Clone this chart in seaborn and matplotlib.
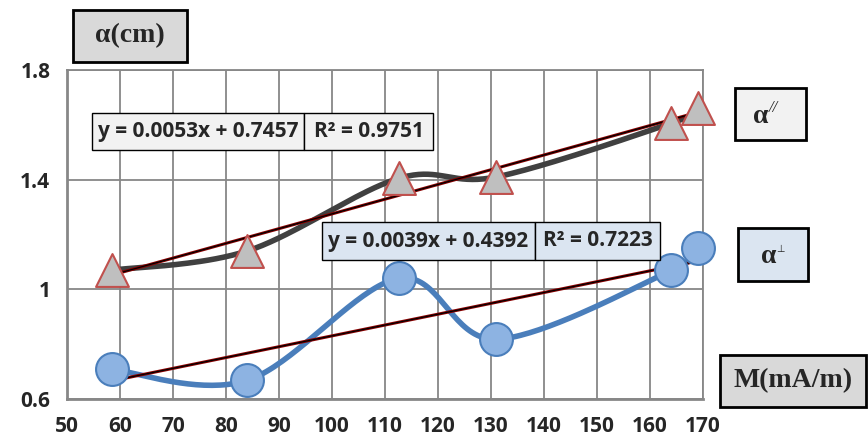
import numpy as np
import pandas as pd
import matplotlib.pyplot as plt
from matplotlib.patches import Rectangle
from matplotlib.ticker import MultipleLocator
import seaborn as sns

# data
m_par = [58.5, 84, 112.6, 131, 164, 169]
a_par = [1.07, 1.14, 1.405, 1.41, 1.606, 1.66]
m_perp = [58.5, 84, 112.6, 131, 164, 169]
a_perp = [0.708, 0.668, 1.04, 0.818, 1.069, 1.15]
eq_par = ["y = 0.0053x + 0.7457", "R² = 0.9751"]
eq_perp = ["y = 0.0039x + 0.4392", "R² = 0.7223"]

sns.set_style("white")
plt.rcParams['font.family'] = ['Open Sans', 'DejaVu Sans']


def smooth(xs, ys, n=40):
    # Excel-like smoothed line (Catmull-Rom through the points)
    p = np.column_stack([xs, ys]).astype(float)
    p = np.vstack([p[0], p, p[-1]])
    out = []
    for i in range(1, len(p) - 2):
        p0, p1, p2, p3 = p[i - 1], p[i], p[i + 1], p[i + 2]
        t = np.linspace(0, 1, n)[:, None]
        seg = 0.5 * ((2 * p1) + (-p0 + p2) * t + (2 * p0 - 5 * p1 + 4 * p2 - p3) * t ** 2
                     + (-p0 + 3 * p1 - 3 * p2 + p3) * t ** 3)
        out.append(seg)
    out = np.vstack(out)
    return out[:, 0], out[:, 1]


fig = plt.figure(figsize=(8.68, 4.41), dpi=100)
ax = fig.add_axes([0.0772, 0.0952, 0.7327, 0.746])

grid_c = '#878787'
ax.set_xlim(50, 170)
ax.set_ylim(0.6, 1.8)
ax.xaxis.set_major_locator(MultipleLocator(10))
ax.xaxis.set_minor_locator(MultipleLocator(2))
ax.yaxis.set_minor_locator(MultipleLocator(0.08))
ax.set_yticks([0.6, 1, 1.4, 1.8])
ax.set_yticklabels(['0.6', '1', '1.4', '1.8'])
ax.grid(True, which='major', color=grid_c, lw=1.3)
ax.set_axisbelow(True)
for s in ax.spines.values():
    s.set_color(grid_c)
    s.set_linewidth(1.3)
ax.spines['left'].set_linewidth(2)
ax.spines['bottom'].set_linewidth(2)
ax.tick_params(which='major', direction='out', length=8, width=1.5, color=grid_c,
               labelsize=15, pad=4)
ax.tick_params(which='minor', direction='inout', length=9, width=1.3, color=grid_c)
for lab in ax.get_xticklabels() + ax.get_yticklabels():
    lab.set_fontweight('bold')

# smoothed series lines
sx, sy = smooth(m_par, a_par)
ax.plot(sx, sy, color='#404040', lw=4, zorder=3, solid_capstyle='round')
sx, sy = smooth(m_perp, a_perp)
ax.plot(sx, sy, color='#4a7ebb', lw=4, zorder=3, solid_capstyle='round')

# linear trendlines
for xs, ys in [(m_par, a_par), (m_perp, a_perp)]:
    sns.regplot(x=xs, y=ys, scatter=False, ci=None, truncate=True, ax=ax,
                line_kws=dict(color='#8b0000', lw=2.2, zorder=4))
    sns.regplot(x=xs, y=ys, scatter=False, ci=None, truncate=True, ax=ax,
                line_kws=dict(color='black', lw=0.9, zorder=4))

# markers
sns.scatterplot(x=m_par, y=a_par, marker='^', s=560, color='#bfbfbf',
                edgecolor='#c0504d', linewidth=1.5, zorder=5, ax=ax, clip_on=False)
sns.scatterplot(x=m_perp, y=a_perp, marker='o', s=560, color='#8db3e2',
                edgecolor='#4a7ebb', linewidth=1.5, zorder=5, ax=ax, clip_on=False)
ax.set_xlim(50, 170)
ax.set_ylim(0.6, 1.8)
ax.set_xlabel('')
ax.set_ylabel('')


def fbox(x0, y0, x1, y1, fc, lw=2.0):
    # box in pixel coordinates from top-left
    W, H = 868, 441
    r = Rectangle((x0 / W, 1 - y1 / H), (x1 - x0) / W, (y1 - y0) / H,
                  transform=fig.transFigure, facecolor=fc, edgecolor='black',
                  lw=lw, zorder=10)
    fig.patches.append(r)
    return ((x0 + x1) / 2 / W, 1 - (y0 + y1) / 2 / H)


serif = dict(family='Liberation Serif', fontweight='bold', fontsize=20, zorder=11)
cx, cy = fbox(73, 10, 187, 62, '#d9d9d9')
fig.text(cx, cy, 'α(cm)', ha='center', va='center', **serif)
cx, cy = fbox(720, 355, 866, 407, '#d9d9d9')
fig.text(cx, cy, 'M(mA/m)', ha='center', va='center', **serif)
cx, cy = fbox(735, 88, 806, 140, '#f2f2f2')
fig.text(cx - 0.002, cy - 0.005, 'α', ha='right', va='center', **serif)
fig.text(cx - 0.002, cy + 0.014, '//', ha='left', va='center', family='Liberation Serif',
         fontstyle='italic', fontsize=12, zorder=11)
cx, cy = fbox(738, 228, 808, 281, '#dbe5f1')
fig.text(cx + 0.004, cy - 0.005, 'α', ha='right', va='center', **serif)
fig.text(cx + 0.004, cy + 0.012, '⊥', ha='left', va='center', family='DejaVu Sans',
         fontsize=7, zorder=11)

# trendline equation labels
eq_font = dict(fontweight='bold', fontsize=15, zorder=11, ha='center', va='center')
cx, cy = fbox(92, 113, 304, 150, '#f2f2f2', lw=1)
fig.text(cx, cy, eq_par[0], **eq_font)
cx, cy = fbox(304, 113, 433, 150, '#f2f2f2', lw=1)
fig.text(cx, cy, eq_par[1], **eq_font)
cx, cy = fbox(322, 222, 535, 260, '#dbe5f1', lw=1)
fig.text(cx, cy, eq_perp[0], **eq_font)
cx, cy = fbox(535, 222, 660, 260, '#dbe5f1', lw=1)
fig.text(cx, cy, eq_perp[1], **eq_font)

fig.savefig('out.png', dpi=100, facecolor='white')
